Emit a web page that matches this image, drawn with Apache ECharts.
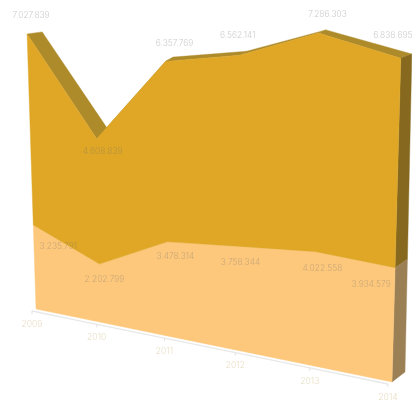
<!DOCTYPE html>
<html><head><meta charset="utf-8">
<style>html,body{margin:0;padding:0;background:#fff}#c{width:412px;height:401px}</style>
<script src="https://cdn.jsdelivr.net/npm/echarts@6/dist/echarts.min.js"></script>
</head><body><div id="c"></div>
<script>
var years = ['2009','2010','2011','2012','2013','2014'];
var lowerValues = [3235791,2202799,3478314,3758344,4022558,3934579];
var upperValues = [7027839,4608839,6357769,6562141,7286303,6838695];
var lowerLabels = ['3.235.791','2.202.799','3.478.314','3.758.344','4.022.558','3.934.579'];
var upperLabels = ['7.027.839','4.608.839','6.357.769','6.562.141','7.286.303','6.838.695'];
var upperLabelOffset = [[4,-18],[6,13],[9,-18],[-2,-20],[9,-19],[-8,-23]];
var lowerLabelOffset = [[25,22],[5,15],[8,15],[1,16],[7,17],[-24,17]];
var valueMax = 11000000;
var stacked = lowerValues.map(function(v,i){return v+upperValues[i];});
var idx = years.map(function(_,i){return i;});

function homography(p){
  var x0=p[0][0],y0=p[0][1],x1=p[1][0],y1=p[1][1],x2=p[2][0],y2=p[2][1],x3=p[3][0],y3=p[3][1];
  var dx1=x1-x2,dx2=x3-x2,sx=x0-x1+x2-x3,dy1=y1-y2,dy2=y3-y2,sy=y0-y1+y2-y3;
  var d=dx1*dy2-dx2*dy1;
  var g=(sx*dy2-dx2*sy)/d,h=(dx1*sy-sx*dy1)/d;
  var a=x1-x0+g*x1,b=x3-x0+h*x3,c=x0,e=y1-y0+g*y1,f=y3-y0+h*y3,k=y0;
  return function(u,v){var w=g*u+h*v+1;return [(a*u+b*v+c)/w,(e*u+f*v+k)/w];};
}
// planes: bottom-left, bottom-right, top-right, top-left
var front = homography([[36,309],[392,382],[401,51],[26.4,13.2]]);
var back  = homography([[50,285],[405,372],[412,47],[41.6,13]]);

function project(api,params,plane,x,y){
  var r=params.coordSys, c=api.coord([x,y]);
  return plane((c[0]-r.x)/r.width, 1-(c[1]-r.y)/r.height);
}
function poly(pts,fill){return {type:'polygon',shape:{points:pts},style:{fill:fill,stroke:fill,lineWidth:0.4}};}

function topFaces(params,api){
  var i=params.dataIndex; if(i>=years.length-1) return null;
  return poly([project(api,params,front,i,stacked[i]),project(api,params,front,i+1,stacked[i+1]),
               project(api,params,back,i+1,stacked[i+1]),project(api,params,back,i,stacked[i])],'#ae8b2a');
}
function sideFace(fill,loArr,hiArr){return function(params,api){
  if(params.dataIndex!==0) return null; var n=years.length-1;
  return poly([project(api,params,front,n,loArr?loArr[n]:0),project(api,params,front,n,hiArr[n]),
               project(api,params,back,n,hiArr[n]),project(api,params,back,n,loArr?loArr[n]:0)],fill);
};}
function frontFace(fill,loArr,hiArr){return function(params,api){
  if(params.dataIndex!==0) return null; var pts=[];
  idx.forEach(function(i){pts.push(project(api,params,front,i,hiArr[i]));});
  idx.slice().reverse().forEach(function(i){pts.push(project(api,params,front,i,loArr?loArr[i]:0));});
  return poly(pts,fill);
};}
function dataLabels(texts,offs,arr){return function(params,api){
  var i=params.dataIndex,p=project(api,params,front,i,arr[i]);
  return {type:'text',x:p[0]+offs[i][0],y:p[1]+offs[i][1],style:{text:texts[i],fill:'rgba(110,110,110,0.36)',
    font:'300 8.4px Inter',align:'center',verticalAlign:'middle'}};
};}
function axisPart(params,api){
  var i=params.dataIndex,p=project(api,params,front,i,0),kids=[];
  var a=[p[0]-4,p[1]+2];
  if(i<years.length-1){var q=project(api,params,front,i+1,0);
    kids.push({type:'line',shape:{x1:a[0],y1:a[1],x2:q[0]-4,y2:q[1]+2},style:{stroke:'#e8e8e8',lineWidth:1.3}});}
  kids.push({type:'line',shape:{x1:a[0],y1:a[1],x2:a[0],y2:a[1]+3},style:{stroke:'#dcdcdc',lineWidth:0.8}});
  kids.push({type:'text',x:a[0],y:a[1]+13,style:{text:years[i],fill:'#eadfc6',font:'300 8.6px Inter',align:'center',verticalAlign:'middle'}});
  return {type:'group',children:kids};
}
var rows=idx.map(function(i){return [i,lowerValues[i],upperValues[i]];});
function custom(fn,z){return {type:'custom',coordinateSystem:'cartesian2d',data:rows,encode:{x:0,y:1},renderItem:fn,z:z,silent:true,animation:false,clip:false};}

var chart=echarts.init(document.getElementById('c'),null,{renderer:'canvas'});
chart.setOption({
  animation:false,backgroundColor:'#fff',
  grid:{left:0,right:0,top:0,bottom:0},
  xAxis:{type:'value',min:0,max:years.length-1,show:false},
  yAxis:{type:'value',min:0,max:valueMax,show:false},
  series:[
    custom(axisPart,1),
    custom(topFaces,2),
    custom(sideFace('#86691f',lowerValues,stacked),3),
    custom(sideFace('#9c8055',null,lowerValues),3),
    custom(frontFace('#fdc87c',null,lowerValues),4),
    custom(frontFace('#dfa725',lowerValues,stacked),5),
    custom(dataLabels(upperLabels,upperLabelOffset,stacked),6),
    custom(dataLabels(lowerLabels,lowerLabelOffset,lowerValues),6)
  ]
});
</script></body></html>
